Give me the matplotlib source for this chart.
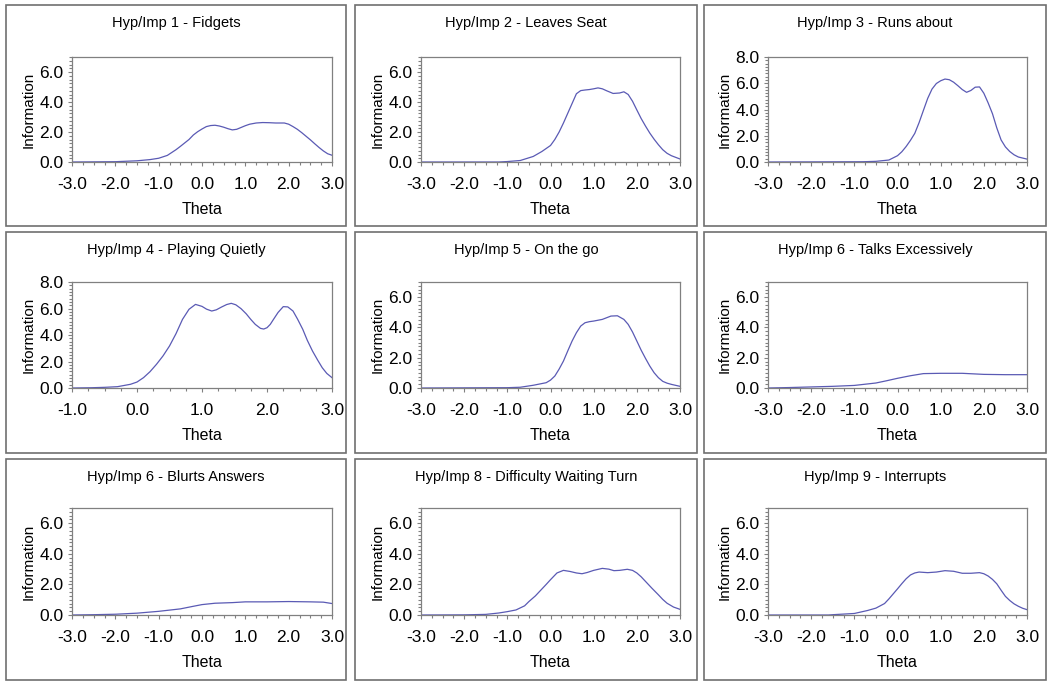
import matplotlib
matplotlib.use("Agg")
import matplotlib.pyplot as plt
from matplotlib.patches import Rectangle
from matplotlib.ticker import MultipleLocator, FormatStrFormatter

plt.rcParams['font.family'] = ['Liberation Sans', 'DejaVu Sans']

titles = ["Hyp/Imp 1 - Fidgets", "Hyp/Imp 2 - Leaves Seat", "Hyp/Imp 3 - Runs about",
          "Hyp/Imp 4 - Playing Quietly", "Hyp/Imp 5 - On the go", "Hyp/Imp 6 - Talks Excessively",
          "Hyp/Imp 6 - Blurts Answers", "Hyp/Imp 8 - Difficulty Waiting Turn", "Hyp/Imp 9 - Interrupts"]

theta1 = [-3.0, -2.0, -1.5, -1.2, -1.0, -0.8, -0.6, -0.5, -0.3, -0.2, -0.1, 0.0, 0.1, 0.2, 0.3, 0.4, 0.5, 0.6, 0.7, 0.8, 0.9, 1.0, 1.1, 1.25, 1.4, 1.55, 1.7, 1.9, 2.0, 2.1, 2.2, 2.3, 2.4, 2.5, 2.6, 2.7, 2.8, 2.9, 3.0]
info1 = [0.0, 0.02, 0.08, 0.16, 0.25, 0.44, 0.82, 1.04, 1.5, 1.8, 2.02, 2.2, 2.36, 2.43, 2.45, 2.4, 2.32, 2.22, 2.14, 2.18, 2.3, 2.42, 2.52, 2.6, 2.63, 2.62, 2.6, 2.6, 2.52, 2.36, 2.18, 1.96, 1.72, 1.48, 1.22, 0.97, 0.74, 0.55, 0.45]

theta2 = [-3.0, -1.2, -1.0, -0.7, -0.4, -0.2, 0.0, 0.1, 0.2, 0.3, 0.4, 0.5, 0.6, 0.7, 0.8, 0.9, 1.0, 1.1, 1.2, 1.3, 1.45, 1.6, 1.7, 1.8, 1.9, 2.0, 2.1, 2.2, 2.3, 2.4, 2.5, 2.6, 2.7, 2.8, 3.0]
info2 = [0.0, 0.0, 0.03, 0.1, 0.37, 0.7, 1.1, 1.5, 2.0, 2.6, 3.25, 3.9, 4.55, 4.76, 4.8, 4.83, 4.88, 4.94, 4.88, 4.75, 4.57, 4.6, 4.68, 4.5, 4.05, 3.47, 2.9, 2.4, 1.93, 1.52, 1.15, 0.82, 0.58, 0.42, 0.2]

theta3 = [-3.0, -0.8, -0.5, -0.2, 0.0, 0.1, 0.2, 0.3, 0.4, 0.5, 0.6, 0.7, 0.8, 0.9, 1.0, 1.1, 1.2, 1.3, 1.4, 1.5, 1.6, 1.7, 1.8, 1.9, 2.0, 2.1, 2.2, 2.3, 2.4, 2.5, 2.6, 2.7, 2.8, 3.0]
info3 = [0.0, 0.02, 0.05, 0.15, 0.48, 0.78, 1.18, 1.65, 2.18, 3.0, 3.93, 4.85, 5.56, 5.98, 6.19, 6.32, 6.27, 6.08, 5.81, 5.52, 5.31, 5.45, 5.7, 5.72, 5.24, 4.5, 3.68, 2.6, 1.68, 1.15, 0.8, 0.55, 0.38, 0.22]

theta4 = [-1.0, -0.7, -0.5, -0.3, -0.1, 0.0, 0.1, 0.2, 0.3, 0.4, 0.5, 0.6, 0.7, 0.8, 0.9, 1.0, 1.07, 1.15, 1.22, 1.3, 1.38, 1.45, 1.52, 1.6, 1.68, 1.75, 1.82, 1.9, 1.95, 2.0, 2.05, 2.1, 2.17, 2.25, 2.32, 2.4, 2.47, 2.55, 2.62, 2.7, 2.78, 2.85, 2.92, 3.0]
info4 = [0.0, 0.02, 0.05, 0.1, 0.28, 0.45, 0.78, 1.23, 1.79, 2.42, 3.17, 4.1, 5.18, 5.94, 6.31, 6.16, 5.95, 5.81, 5.9, 6.11, 6.3, 6.39, 6.28, 5.99, 5.6, 5.18, 4.8, 4.5, 4.45, 4.55, 4.8, 5.18, 5.7, 6.14, 6.12, 5.81, 5.2, 4.43, 3.6, 2.79, 2.1, 1.53, 1.1, 0.78]

theta5 = [-3.0, -1.0, -0.7, -0.4, -0.1, 0.0, 0.1, 0.2, 0.3, 0.4, 0.5, 0.6, 0.7, 0.8, 0.9, 1.0, 1.2, 1.4, 1.55, 1.7, 1.8, 1.9, 2.0, 2.1, 2.2, 2.3, 2.4, 2.5, 2.6, 2.7, 2.8, 3.0]
info5 = [0.0, 0.02, 0.05, 0.18, 0.35, 0.52, 0.79, 1.25, 1.78, 2.45, 3.1, 3.65, 4.09, 4.31, 4.38, 4.42, 4.53, 4.75, 4.77, 4.53, 4.2, 3.7, 3.1, 2.5, 1.96, 1.45, 1.01, 0.68, 0.44, 0.32, 0.24, 0.11]

theta6 = [-3.0, -2.5, -2.0, -1.5, -1.0, -0.5, -0.25, 0.0, 0.3, 0.6, 1.0, 1.5, 2.0, 2.5, 3.0]
info6 = [0.0, 0.03, 0.07, 0.11, 0.17, 0.33, 0.48, 0.64, 0.81, 0.95, 0.97, 0.97, 0.9, 0.88, 0.88]

theta7 = [-3.0, -2.5, -2.0, -1.5, -1.0, -0.5, -0.2, 0.0, 0.3, 0.7, 1.0, 1.5, 2.0, 2.5, 2.8, 3.0]
info7 = [0.0, 0.02, 0.05, 0.12, 0.24, 0.4, 0.57, 0.68, 0.77, 0.81, 0.86, 0.86, 0.88, 0.86, 0.84, 0.75]

theta8 = [-3.0, -2.0, -1.5, -1.2, -1.0, -0.8, -0.6, -0.5, -0.35, -0.24, -0.1, 0.0, 0.15, 0.3, 0.45, 0.6, 0.73, 0.85, 1.0, 1.2, 1.35, 1.47, 1.6, 1.78, 1.9, 2.0, 2.1, 2.2, 2.35, 2.5, 2.6, 2.7, 2.85, 3.0]
info8 = [0.0, 0.01, 0.04, 0.13, 0.22, 0.33, 0.6, 0.88, 1.25, 1.58, 2.0, 2.31, 2.75, 2.92, 2.85, 2.75, 2.7, 2.78, 2.92, 3.05, 3.0, 2.9, 2.92, 2.99, 2.92, 2.75, 2.5, 2.2, 1.75, 1.32, 1.02, 0.77, 0.52, 0.37]

theta9 = [-3.0, -1.6, -1.5, -1.0, -0.7, -0.5, -0.3, -0.2, -0.1, 0.0, 0.1, 0.2, 0.3, 0.4, 0.5, 0.7, 0.9, 1.1, 1.3, 1.5, 1.7, 1.9, 2.0, 2.1, 2.2, 2.3, 2.4, 2.5, 2.6, 2.7, 2.8, 2.9, 3.0]
info9 = [0.0, 0.0, 0.02, 0.1, 0.29, 0.45, 0.75, 1.05, 1.38, 1.71, 2.05, 2.37, 2.62, 2.75, 2.81, 2.77, 2.81, 2.9, 2.86, 2.73, 2.73, 2.77, 2.7, 2.55, 2.33, 2.04, 1.62, 1.22, 0.95, 0.73, 0.57, 0.44, 0.35]

thetas = [theta1, theta2, theta3, theta4, theta5, theta6, theta7, theta8, theta9]
infos = [info1, info2, info3, info4, info5, info6, info7, info8, info9]
xlims = [(-3, 3), (-3, 3), (-3, 3), (-1, 3), (-3, 3), (-3, 3), (-3, 3), (-3, 3), (-3, 3)]
ymaxs = [7, 7, 8, 8, 7, 7, 7, 7, 7]

W, H = 1050, 684
fig = plt.figure(figsize=(W / 100, H / 100), dpi=100)

box_x = [(6, 346), (355, 697), (704, 1046)]
box_y = [(5, 226), (232, 453), (459, 680)]
ax_x = [(72, 332), (421, 680), (768, 1027)]
ax_y = [(57, 162), (282, 388), (508, 615)]
title_y = [23, 250, 477]

line_col = '#5a5ab4'
grey = '#808080'

for i in range(9):
    r, c = divmod(i, 3)
    bx0, bx1 = box_x[c]
    by0, by1 = box_y[r]
    fig.patches.append(Rectangle((bx0 / W, 1 - by1 / H), (bx1 - bx0) / W, (by1 - by0) / H,
                                 transform=fig.transFigure, fill=False, edgecolor='#707070', lw=1.2))
    x0, x1 = ax_x[c]
    y0, y1 = ax_y[r]
    ax = fig.add_axes([x0 / W, 1 - y1 / H, (x1 - x0) / W, (y1 - y0) / H])
    ax.plot(thetas[i], infos[i], color=line_col, lw=0.9)
    ax.set_xlim(*xlims[i])
    ax.set_ylim(0, ymaxs[i])
    ax.xaxis.set_major_locator(MultipleLocator(1.0))
    ax.xaxis.set_minor_locator(MultipleLocator(0.25))
    ax.yaxis.set_major_locator(MultipleLocator(2.0))
    ax.yaxis.set_minor_locator(MultipleLocator(0.25))
    ax.xaxis.set_major_formatter(FormatStrFormatter('%.1f'))
    ax.yaxis.set_major_formatter(FormatStrFormatter('%.1f'))
    ax.tick_params(which='both', direction='out', color=grey, length=3, width=0.8,
                   labelsize=12.5, labelcolor='black')
    ax.tick_params(axis='x', which='major', pad=8)
    ax.tick_params(axis='y', which='major', pad=3)
    ax.tick_params(which='minor', length=2.5)
    for s in ax.spines.values():
        s.set_color(grey)
        s.set_linewidth(0.9)
    ax.set_xlabel('Theta', fontsize=11.5, labelpad=7)
    ax.set_ylabel('Information', fontsize=11, labelpad=3)
    fig.text(((bx0 + bx1) / 2) / W, 1 - title_y[r] / H, titles[i], ha='center', va='center', fontsize=10.5)

fig.savefig('out.png', dpi=100)
